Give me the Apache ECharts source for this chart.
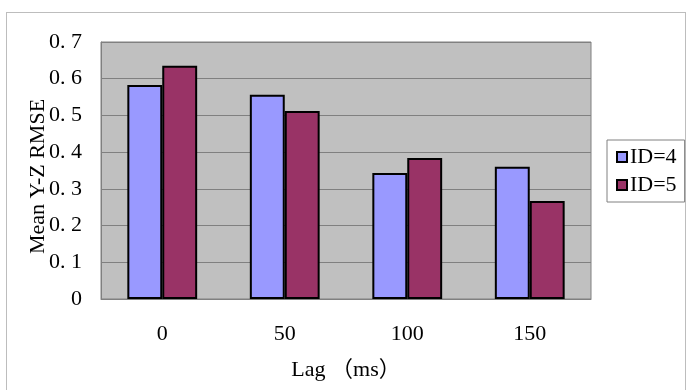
<!DOCTYPE html>
<html>
<head>
<meta charset="utf-8">
<script src="https://cdn.jsdelivr.net/npm/echarts@6/dist/echarts.min.js"></script>
<style>
  html, body { margin: 0; padding: 0; background: #fff; }
  #frame { position: absolute; left: 6px; top: 12px; width: 680px; height: 390px; border: 1px solid #bdbdbd; box-sizing: border-box; }
  #chart { position: absolute; left: 0; top: 0; width: 694px; height: 390px; }
</style>
</head>
<body>
<div id="frame"></div>
<div id="chart"></div>
<script>
const lags = ['0', '50', '100', '150']
const id4 = [0.583, 0.556, 0.343, 0.360]
const id5 = [0.635, 0.512, 0.384, 0.267]
const yTicks = [0, 0.1, 0.2, 0.3, 0.4, 0.5, 0.6, 0.7]

const font = '"Liberation Serif", "Noto Sans CJK SC", serif'
const chart = echarts.init(document.getElementById('chart'))

chart.setOption({
  animation: false,
  textStyle: { fontFamily: font },
  grid: {
    left: 101, right: 103, top: 42, bottom: 91,
    show: true,
    backgroundColor: '#c0c0c0',
    borderColor: '#808080',
    borderWidth: 1
  },
  legend: {
    orient: 'vertical',
    left: 607, top: 140,
    width: 60,
    padding: [6, 8, 6, 9],
    itemGap: 6,
    itemWidth: 10, itemHeight: 10,
    icon: 'rect',
    borderColor: '#808080',
    borderWidth: 1,
    backgroundColor: '#fff',
    textStyle: { fontFamily: font, fontSize: 22, color: '#000', padding: [0, 0, 0, -2] },
    data: ['ID=4', 'ID=5']
  },
  xAxis: {
    type: 'category',
    data: lags,
    name: 'Lag （ms）',
    nameLocation: 'middle',
    nameGap: 60,
    nameTextStyle: { fontFamily: font, fontSize: 22, color: '#000' },
    axisLine: { lineStyle: { color: '#808080' } },
    axisTick: { inside: true, length: 4, lineStyle: { color: '#808080' } },
    axisLabel: { fontFamily: font, fontSize: 22, color: '#000', margin: 24 }
  },
  yAxis: {
    type: 'value',
    min: 0, max: 0.7, interval: 0.1,
    name: 'Mean Y-Z RMSE',
    nameLocation: 'middle',
    nameRotate: 90,
    nameGap: 52,
    nameMoveOverlap: false,
    nameTextStyle: { fontFamily: font, fontSize: 22, color: '#000', padding: [0, 12, 0, 0] },
    axisLine: { show: true, lineStyle: { color: '#808080' } },
    axisTick: { show: false },
    splitLine: { lineStyle: { color: '#808080' } },
    axisLabel: {
      fontFamily: font, fontSize: 22, color: '#000', margin: 19,
      formatter: v => {
        const t = yTicks.find(x => Math.abs(x - v) < 1e-9)
        if (t === 0) return '0'
        return t.toFixed(1).replace('.', '. ')
      }
    }
  },
  series: [
    {
      name: 'ID=4', type: 'bar', data: id4,
      barGap: '0%', barCategoryGap: '43%',
      itemStyle: { color: '#9999ff', borderColor: '#000', borderWidth: 2 }
    },
    {
      name: 'ID=5', type: 'bar', data: id5,
      barGap: '0%', barCategoryGap: '43%',
      itemStyle: { color: '#993366', borderColor: '#000', borderWidth: 2 }
    }
  ]
})
</script>
</body>
</html>
